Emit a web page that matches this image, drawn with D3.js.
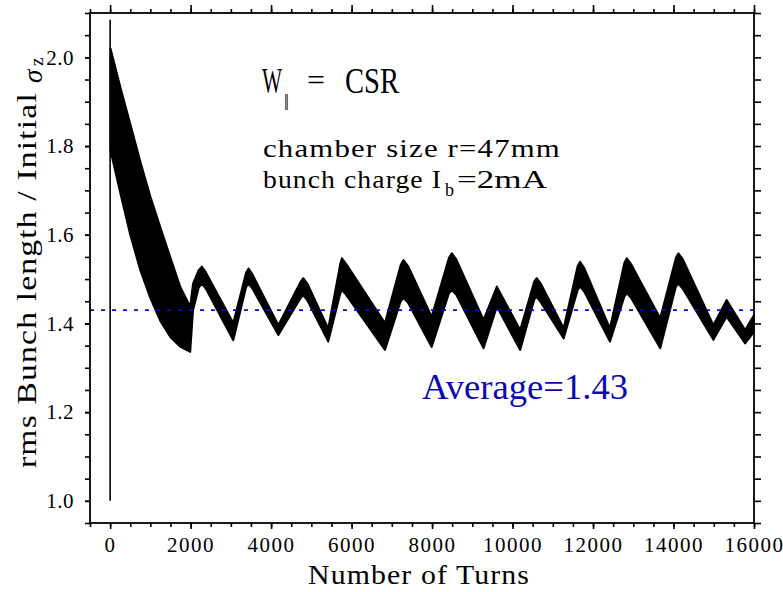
<!DOCTYPE html>
<html>
<head>
<meta charset="utf-8">
<script src="https://cdn.jsdelivr.net/npm/d3@7"></script>
<style>
  body { margin: 0; background: #fff; }
  text { font-family: "Liberation Serif", "DejaVu Serif", serif; fill: #000; }
</style>
</head>
<body>
<svg id="chart" width="783" height="592"></svg>
<script>
// envelope of the (fast oscillating) bunch length signal
var turns = [10, 250, 500, 750, 1000, 1250, 1500, 1750, 1990, 2060, 2200, 2280, 2380, 3060, 3380, 3440, 3540, 4180, 4740, 4800, 4900,
  5420, 5720, 5760, 5860, 6830, 7220, 7290, 7400, 7990, 8420, 8490, 8600, 9280, 9610, 10190, 10540, 10600, 10700,
  11270, 11620, 11680, 11780, 12420, 12780, 12840, 12950, 13670, 14060, 14120, 14230, 14990, 15320, 15780, 16000]
var upper = [2.02, 1.934, 1.85, 1.765, 1.686, 1.616, 1.548, 1.481, 1.438, 1.49, 1.52, 1.528, 1.515, 1.401, 1.515, 1.524, 1.51, 1.396, 1.495, 1.502, 1.49,
  1.389, 1.535, 1.547, 1.535, 1.401, 1.532, 1.543, 1.53, 1.415, 1.548, 1.558, 1.545, 1.408, 1.483, 1.385, 1.495, 1.502, 1.49,
  1.389, 1.53, 1.539, 1.525, 1.389, 1.537, 1.547, 1.533, 1.412, 1.548, 1.558, 1.545, 1.396, 1.453, 1.385, 1.419]
var lower = [1.79, 1.695, 1.60, 1.52, 1.457, 1.405, 1.369, 1.347, 1.336, 1.43, 1.48, 1.49, 1.478, 1.362, 1.482, 1.490, 1.478, 1.374, 1.458, 1.464, 1.452,
  1.359, 1.468, 1.475, 1.465, 1.340, 1.45, 1.457, 1.447, 1.347, 1.468, 1.475, 1.465, 1.344, 1.438, 1.340, 1.454, 1.460, 1.448,
  1.366, 1.476, 1.483, 1.472, 1.359, 1.461, 1.468, 1.457, 1.344, 1.483, 1.490, 1.478, 1.363, 1.415, 1.355, 1.381]

// initial spike at turn 0
var spikeTurns = [0, 0]
var spikeValues = [1.0, 2.085]

var average = 1.43
var xTicks = [0, 2000, 4000, 6000, 8000, 10000, 12000, 14000, 16000]
var yTicks = [1.0, 1.2, 1.4, 1.6, 1.8, 2.0]

var svg = d3.select("#chart")
var mLeft = 90, mRight = 754, mTop = 13, mBottom = 523

var x = d3.scaleLinear().domain([-500, 16000]).range([mLeft, mRight])
var y = d3.scaleLinear().domain([0.95, 2.1]).range([mBottom, mTop])

// band
var band = turns.map((t, i) => ({t: t, hi: upper[i], lo: lower[i]}))
var area = d3.area()
  .x(d => x(d.t))
  .y0(d => y(d.lo))
  .y1(d => y(d.hi))

svg.append("path")
  .datum(band)
  .attr("d", area)
  .attr("fill", "#000")
  .attr("stroke", "#000")
  .attr("stroke-width", 2)
  .attr("stroke-linejoin", "round")

svg.append("path")
  .datum(spikeTurns.map((t, i) => [t, spikeValues[i]]))
  .attr("d", d3.line().x(d => x(d[0])).y(d => y(d[1])))
  .attr("stroke", "#000")
  .attr("stroke-width", 1.6)
  .attr("fill", "none")

// average line
svg.append("line")
  .attr("x1", x(-500)).attr("x2", x(16000))
  .attr("y1", y(average)).attr("y2", y(average))
  .attr("stroke", "#0a0ac0")
  .attr("stroke-width", 1.8)
  .attr("stroke-dasharray", "4,7")

// axes
function styleAxis(g) {
  g.select(".domain").remove()
  g.selectAll("line").attr("stroke", "#000").attr("stroke-width", 1.6)
  g.selectAll("text")
    .style("font-family", "'Liberation Serif', serif")
    .style("font-size", "21px")
    .attr("fill", "#000")
}

var xMinor = d3.range(-500, 16001, 500)
var yMinor = d3.range(0.95, 2.101, 0.05)

svg.append("g").attr("transform", `translate(0,${mBottom})`)
  .call(d3.axisBottom(x).tickValues(xMinor).tickSize(4).tickFormat(""))
  .call(styleAxis)
svg.append("g").attr("transform", `translate(0,${mBottom})`)
  .call(d3.axisBottom(x).tickValues(xTicks).tickSize(6).tickPadding(8).tickFormat(d3.format("d")))
  .call(styleAxis)
  .call(g => g.selectAll("text").style("letter-spacing", "1.5px"))

svg.append("g").attr("transform", `translate(0,${mTop})`)
  .call(d3.axisTop(x).tickValues(xMinor).tickSize(4).tickFormat(""))
  .call(styleAxis)
svg.append("g").attr("transform", `translate(0,${mTop})`)
  .call(d3.axisTop(x).tickValues(xTicks).tickSize(8).tickFormat(""))
  .call(styleAxis)

svg.append("g").attr("transform", `translate(${mLeft},0)`)
  .call(d3.axisLeft(y).tickValues(yMinor).tickSize(5).tickFormat(""))
  .call(styleAxis)
svg.append("g").attr("transform", `translate(${mLeft},0)`)
  .call(d3.axisLeft(y).tickValues(yTicks).tickSize(5).tickPadding(11).tickFormat(d3.format(".1f")))
  .call(styleAxis)
  .call(g => g.selectAll("text").style("letter-spacing", "0.5px"))

svg.append("g").attr("transform", `translate(${mRight},0)`)
  .call(d3.axisRight(y).tickValues(yMinor).tickSize(7).tickFormat(""))
  .call(styleAxis)

svg.append("rect")
  .attr("x", mLeft).attr("y", mTop)
  .attr("width", mRight - mLeft).attr("height", mBottom - mTop)
  .attr("fill", "none").attr("stroke", "#000").attr("stroke-width", 1.8)

// axis titles
svg.append("text")
  .attr("x", 308).attr("y", 584)
  .attr("textLength", 222).attr("lengthAdjust", "spacingAndGlyphs")
  .style("font-size", "27px").style("letter-spacing", "1px")
  .text("Number of Turns")

var yl = svg.append("g").attr("transform", "translate(36,255) rotate(-90)")
yl.append("text")
  .attr("x", -213).attr("y", 0)
  .attr("textLength", 376).attr("lengthAdjust", "spacingAndGlyphs")
  .style("font-size", "28px").style("letter-spacing", "1px")
  .text("rms Bunch length / Initial")
yl.append("text")
  .attr("x", 172).attr("y", 6)
  .style("font-size", "27px").style("font-style", "italic")
  .text("σ")
yl.append("text")
  .attr("x", 189).attr("y", 7)
  .style("font-size", "19px")
  .text("z")

// annotations
svg.append("text").attr("x", 262).attr("y", 93)
  .attr("textLength", 20).attr("lengthAdjust", "spacingAndGlyphs")
  .style("font-size", "36px").text("W")
svg.append("text").attr("x", 284).attr("y", 106)
  .style("font-size", "17px").style("letter-spacing", "-2px").text("||")
svg.append("text").attr("x", 307).attr("y", 90)
  .attr("textLength", 18).attr("lengthAdjust", "spacingAndGlyphs")
  .style("font-size", "30px").text("=")
svg.append("text").attr("x", 345).attr("y", 93)
  .attr("textLength", 54).attr("lengthAdjust", "spacingAndGlyphs")
  .style("font-size", "36px").text("CSR")

svg.append("text").attr("x", 263).attr("y", 157)
  .attr("textLength", 298).attr("lengthAdjust", "spacingAndGlyphs")
  .style("font-size", "26px").style("letter-spacing", "1px").text("chamber size r=47mm")
svg.append("text").attr("x", 263).attr("y", 188)
  .attr("textLength", 179).attr("lengthAdjust", "spacingAndGlyphs")
  .style("font-size", "26px").style("letter-spacing", "1px").text("bunch charge I")
svg.append("text").attr("x", 445).attr("y", 196)
  .style("font-size", "18px").text("b")
svg.append("text").attr("x", 457).attr("y", 188)
  .attr("textLength", 90).attr("lengthAdjust", "spacingAndGlyphs")
  .style("font-size", "26px").text("=2mA")

svg.append("text").attr("x", 422).attr("y", 399)
  .attr("textLength", 206).attr("lengthAdjust", "spacingAndGlyphs")
  .style("font-size", "35px").style("fill", "#0a0ab0")
  .text("Average=" + average.toFixed(2))
</script>
</body>
</html>
